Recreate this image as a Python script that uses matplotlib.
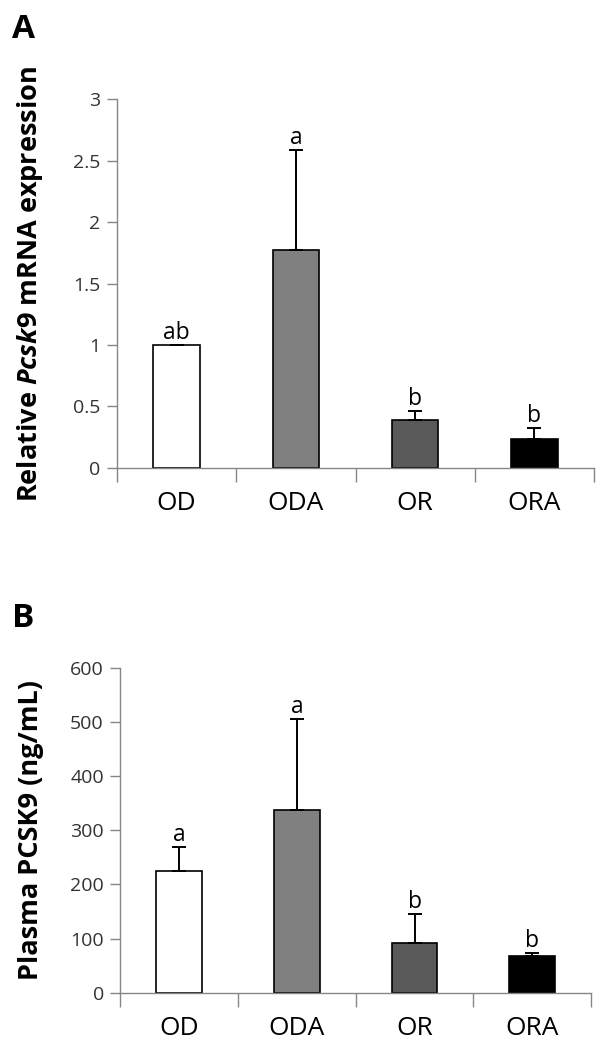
""" Pcsk9 mRNA and plasma PCSK9 bar charts (panels A and B) """
import numpy as np
import matplotlib
import matplotlib.pyplot as plt
from matplotlib.ticker import FixedLocator, NullFormatter

matplotlib.use('Agg')
plt.rcParams['font.family'] = ['Open Sans', 'DejaVu Sans']
plt.rcParams['mathtext.fontset'] = 'custom'
plt.rcParams['mathtext.it'] = 'Open Sans:italic:bold'
plt.rcParams['mathtext.rm'] = 'Open Sans:bold'

groups = ['OD', 'ODA', 'OR', 'ORA']
bar_colors = ['white', '#808080', '#595959', 'black']

# panel A: relative Pcsk9 mRNA expression
mrna_mean = [1.0, 1.775, 0.39, 0.236]
mrna_err = [0.0, 0.815, 0.075, 0.09]
mrna_letters = ['ab', 'a', 'b', 'b']
mrna_ticks = [0, 0.5, 1, 1.5, 2, 2.5, 3]
mrna_ticklabels = ['0', '0.5', '1', '1.5', '2', '2.5', '3']

# panel B: plasma PCSK9 (ng/mL)
plasma_mean = [225, 338, 92, 68]
plasma_err = [44, 167, 53, 6]
plasma_letters = ['a', 'a', 'b', 'b']
plasma_ticks = [0, 100, 200, 300, 400, 500, 600]
plasma_ticklabels = ['0', '100', '200', '300', '400', '500', '600']

AXIS_GREY = '#868686'
TEXT_GREY = '#333333'


def draw_panel(ax, means, errs, letters, ticks, ticklabels, ylabel, label_x):
    x = np.arange(1, len(groups) + 1)
    ax.bar(x, means, width=0.39, color=bar_colors, edgecolor='black',
           linewidth=1.2, zorder=2)
    ax.errorbar(x, means, yerr=[np.zeros(len(errs)), errs], fmt='none',
                ecolor='black', elinewidth=1.4, capsize=5, capthick=1.4, zorder=3)
    for xi, m, e, lab in zip(x, means, errs, letters):
        ax.annotate(lab, (xi, m + e), xytext=(0, 0), textcoords='offset points',
                    ha='center', va='bottom', fontsize=16.5, color='black')

    ax.set_xlim(0.5, len(groups) + 0.5)
    ax.set_ylim(ticks[0], ticks[-1])
    ax.set_yticks(ticks)
    ax.set_yticklabels(ticklabels)
    # tick marks between groups, labels at group centres
    ax.xaxis.set_major_locator(FixedLocator(np.arange(0.5, len(groups) + 1, 1.0)))
    ax.xaxis.set_major_formatter(NullFormatter())
    ax.xaxis.set_minor_locator(FixedLocator(x))
    ax.set_xticklabels(groups, minor=True)
    ax.tick_params(axis='x', which='major', length=10, width=1, color=AXIS_GREY)
    ax.tick_params(axis='x', which='minor', length=0, pad=17, labelsize=19,
                   labelcolor='black')
    ax.tick_params(axis='y', length=7, width=1, color=AXIS_GREY, labelsize=14,
                   labelcolor=TEXT_GREY, pad=5)

    for side in ['top', 'right']:
        ax.spines[side].set_visible(False)
    for side in ['left', 'bottom']:
        ax.spines[side].set_color(AXIS_GREY)
        ax.spines[side].set_linewidth(1)

    ax.set_ylabel(ylabel, fontsize=19.5, fontweight='bold', color='black')
    ax.yaxis.set_label_coords(label_x, 0.5)


fig = plt.figure(figsize=(6, 10.5), dpi=100)
ax_a = fig.add_axes([0.195, 0.5546, 0.795, 0.3507])
ax_b = fig.add_axes([0.2008, 0.0546, 0.7842, 0.3095])

draw_panel(ax_a, mrna_mean, mrna_err, mrna_letters, mrna_ticks, mrna_ticklabels,
           r'Relative $\mathit{Pcsk9}$ mRNA expression', -0.150)
draw_panel(ax_b, plasma_mean, plasma_err, plasma_letters, plasma_ticks,
           plasma_ticklabels, 'Plasma PCSK9 (ng/mL)', -0.162)

fig.text(0.02, 0.988, 'A', fontsize=24, fontweight='bold', va='top', ha='left')
fig.text(0.02, 0.427, 'B', fontsize=24, fontweight='bold', va='top', ha='left')

fig.savefig('out.png', dpi=100)
plt.close()
